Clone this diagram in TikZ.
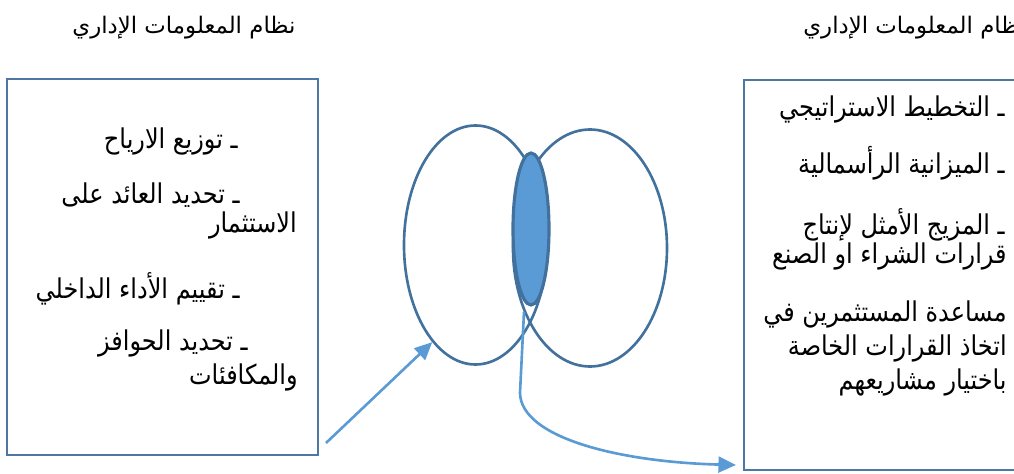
\documentclass[tikz,border=0pt]{standalone}
\usepackage{fontspec}
\usepackage{xcolor}
\usepackage{tikz}
\usetikzlibrary{arrows.meta,shapes.geometric}
\TeXXeTstate=1
\newfontfamily\arabicfont[Script=Arabic]{DejaVu Sans}
\newfontfamily\arabicnarrow[Script=Arabic,FakeStretch=0.88]{DejaVu Sans}
\definecolor{MISLine}{HTML}{41719C}
\definecolor{MISFill}{HTML}{5B9BD5}
\definecolor{MISFrame}{HTML}{4E77A6}
\tikzset{
  panel/.style={draw=MISFrame,line width=1.6pt,rectangle,inner sep=0pt},
  bubble/.style={ellipse,draw=MISLine,line width=1.5pt,inner sep=0pt},
  item/.style={anchor=east,inner sep=0pt,font=\arabicnarrow\fontsize{15.5}{18}\selectfont},
  heading/.style={inner sep=0pt,font=\arabicfont\fontsize{13}{15}\selectfont},
  flow/.style={draw=MISFill,line width=1.5pt,-{Triangle[length=10pt,width=9pt]}}
}

\begin{document}
\begin{tikzpicture}[x=1cm,y=1cm]
\path[use as bounding box] (0,0) rectangle (20.28,9.46);
\node[panel,minimum width=6.22cm,minimum height=7.52cm] (lbox) at (3.25,4.12) {};
\node[panel,minimum width=5.72cm,minimum height=7.80cm] (rbox) at (17.74,3.96) {};
\node[heading,anchor=center] (ltitle) at (3.68,8.90) {\beginR نظام المعلومات الإداري\endR};
\node[heading,anchor=west] (rtitle) at (16.06,8.90) {\beginR نظام المعلومات الإداري\endR};
\node[item] (lone) at (4.76,6.64) {\beginR ـ توزيع الارياح\endR};
\node[item] (ltwo) at (4.80,5.56) {\beginR ـ تحديد العائد على\endR};
\node[item] (ltwob) at (5.94,4.96) {\beginR الاستثمار\endR};
\node[item] (lthree) at (4.80,3.68) {\beginR ـ تقييم الأداء الداخلي\endR};
\node[item] (lfour) at (4.96,2.60) {\beginR ـ تحديد الحوافز\endR};
\node[item] (lfourb) at (5.96,1.92) {\beginR والمكافئات\endR};
\node[item] (rone) at (20.10,7.28) {\beginR ـ التخطيط الاستراتيجي\endR};
\node[item] (rtwo) at (20.10,6.20) {\beginR ـ الميزانية الرأسمالية\endR};
\node[item] (rthree) at (20.10,4.96) {\beginR ـ المزيج الأمثل لإنتاج\endR};
\node[item] (rthreeb) at (20.14,4.34) {\beginR قرارات الشراء او الصنع\endR};
\node[item] (rfour) at (20.14,3.18) {\beginR مساعدة المستثمرين في\endR};
\node[item] (rfourb) at (20.14,2.50) {\beginR اتخاذ القرارات الخاصة\endR};
\node[item] (rfourc) at (20.14,1.82) {\beginR باختيار مشاريعهم\endR};
\node[bubble,minimum width=2.86cm,minimum height=4.78cm] (lsys) at (9.51,4.56) {};
\node[bubble,minimum width=3.08cm,minimum height=4.74cm] (rsys) at (11.80,4.50) {};
\node[bubble,fill=MISFill,line width=1.8pt,minimum width=0.72cm,minimum height=3.04cm] (core) at (10.62,4.88) {};
\coordinate (instart) at (6.52,0.60);
\coordinate (outstart) at (10.48,3.22);
\coordinate (outend) at (14.72,0.16);
\draw[flow] (instart) -- (lsys.246);
\draw[flow] (outstart) -- (10.40,1.60) .. controls (10.42,0.70) and (12.40,0.22) .. (outend);
\end{tikzpicture}
\end{document}
